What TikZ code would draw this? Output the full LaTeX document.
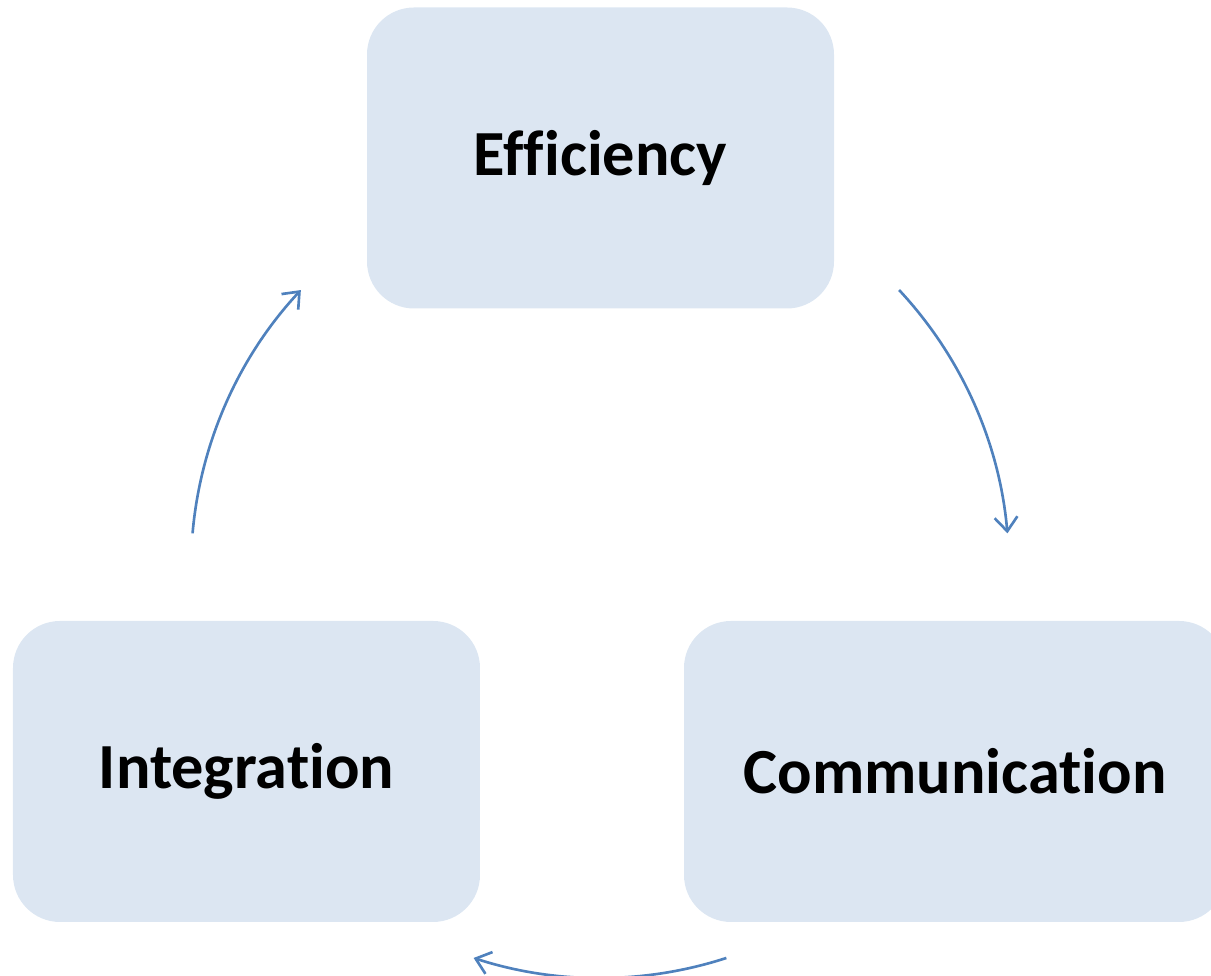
\documentclass[tikz,border=0pt]{standalone}
\usepackage{fontspec}
\setmainfont{Carlito}[Ligatures=NoCommon]
\usetikzlibrary{arrows.meta}
\definecolor{boxfill}{HTML}{DCE6F2}
\definecolor{arrowblue}{HTML}{4F81BD}
\begin{document}
\begin{tikzpicture}[
    stage/.style={fill=boxfill, rounded corners=0.47cm, minimum height=3.01cm,
      font=\fontsize{18.3}{22}\selectfont\bfseries, text=black},
    cyclearrow/.style={draw=arrowblue, line width=0.75pt,
      -{Straight Barb[length=4pt,width=6.5pt]}}
  ]
    \useasboundingbox (0,0) rectangle (12.11,9.76);
    \node[stage, minimum width=4.67cm] (eff) at (6.005,8.18) {Efficiency};
    \node[stage, minimum width=5.42cm] (com) at (9.55,2.045) {Communication};
    \node[stage, minimum width=4.67cm] (int) at (2.465,2.045) {Integration};

    \coordinate (ctr) at (6.00,4.07);
    \draw[cyclearrow] ([shift={(43:4.09)}]ctr) arc[start angle=43, end angle=5, radius=4.09cm];
    \draw[cyclearrow] ([shift={(-72:4.09)}]ctr) arc[start angle=-72, end angle=-108, radius=4.09cm];
    \draw[cyclearrow] ([shift={(175:4.09)}]ctr) arc[start angle=175, end angle=137, radius=4.09cm];
\end{tikzpicture}
\end{document}
